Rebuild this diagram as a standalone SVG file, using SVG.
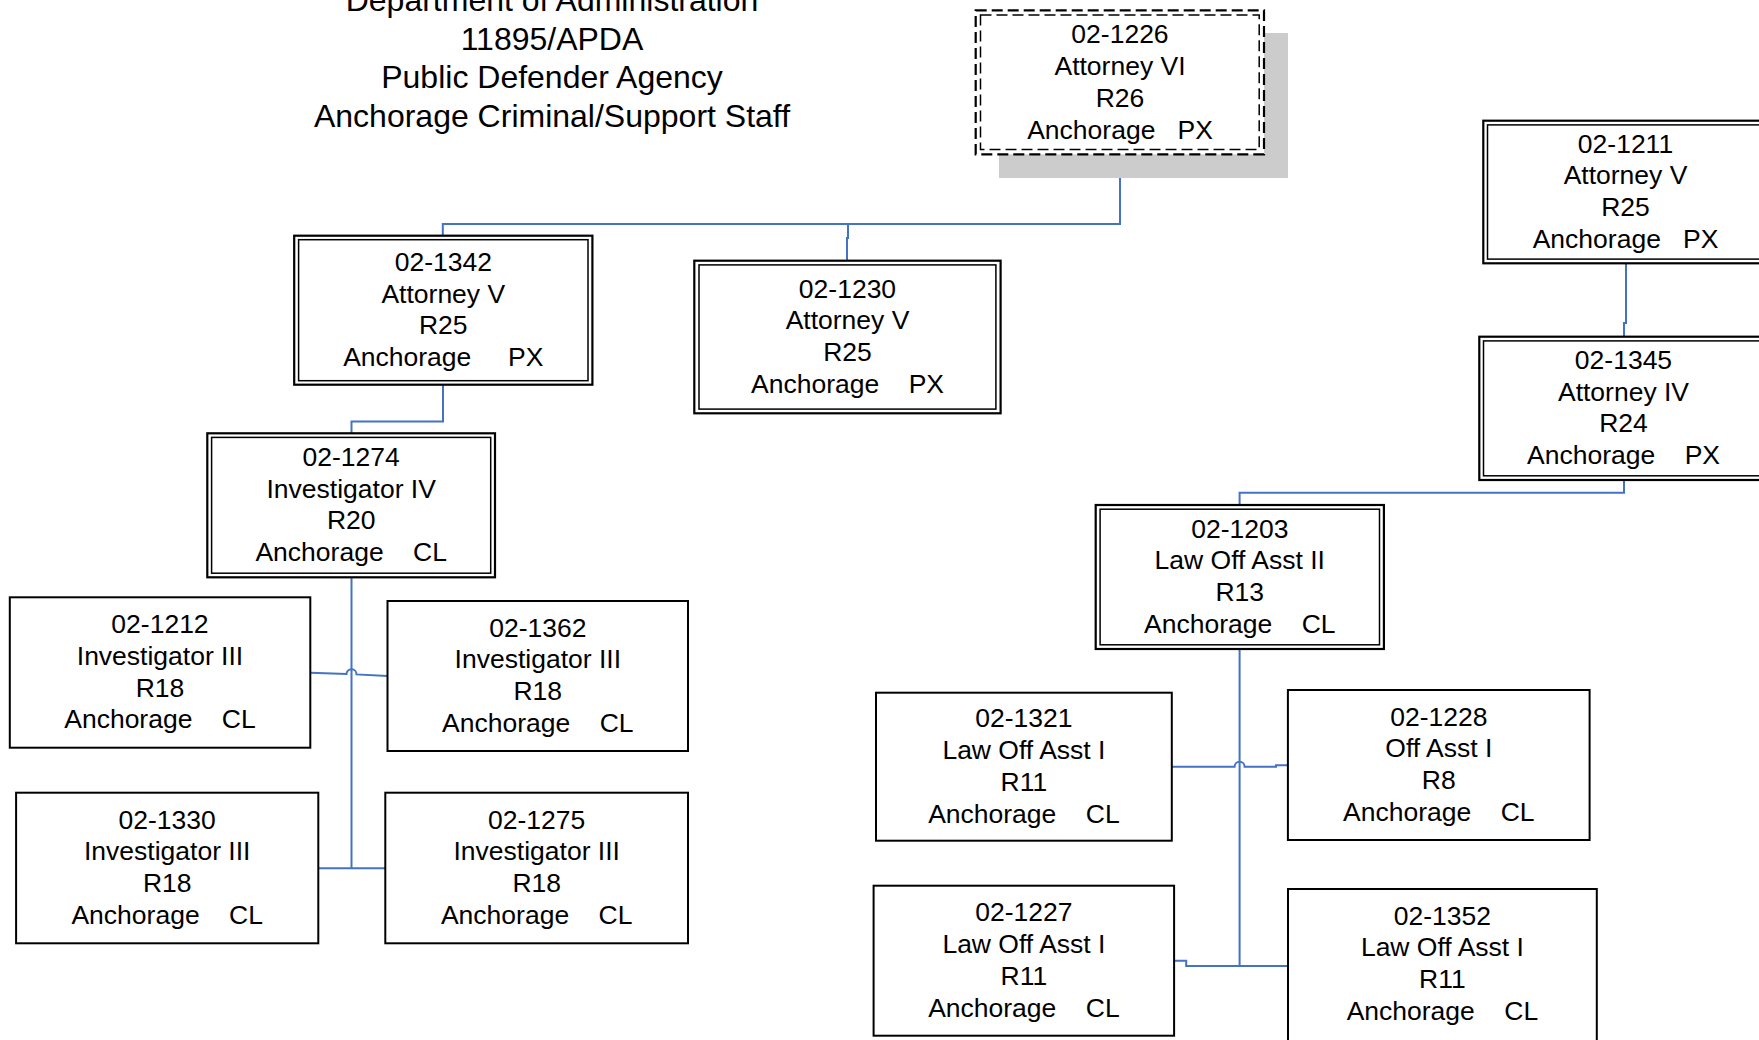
<svg xmlns="http://www.w3.org/2000/svg" width="1759" height="1040" viewBox="0 0 1759 1040">
<style>
text{font-family:"Liberation Sans",Arial,sans-serif;fill:#000}
.t{font-size:32px;text-anchor:middle}
.n{font-size:26.5px;text-anchor:middle}
.b{fill:#fff;stroke:#000;stroke-width:2}
.o{fill:#fff;stroke:#000;stroke-width:2.2}
.i{fill:none;stroke:#000;stroke-width:1.5}
.d{stroke-dasharray:11 5}
.c{fill:none;stroke:#4472C4;stroke-width:2}
</style>
<rect width="1759" height="1040" fill="#fff"/>
<g id="title">
<text class="t" x="552" y="11">Department of Administration</text>
<text class="t" x="552" y="49.5">11895/APDA</text>
<text class="t" x="552" y="88">Public Defender Agency</text>
<text class="t" x="552" y="126.5">Anchorage Criminal/Support Staff</text>
</g>
<g id="connectors">
<path class="c" d="M1120,154.3 V224 H442.8 V235.7"/>
<path class="c" d="M848,224 V238 H847 V260.7"/>
<path class="c" d="M443,384.7 V421.5 H351.5 V433.3"/>
<path class="c" d="M351.5,577.3 V868.3"/>
<path class="c" d="M318.3,868.3 H385.3"/>
<path class="c" d="M310.3,672.7 L346.5,674 A5,5 0 0 1 356.5,674.4 L387.5,676"/>
<path class="c" d="M1626,263.3 V323 H1624 V336.7"/>
<path class="c" d="M1624,480 V492.7 H1239.6 V505"/>
<path class="c" d="M1239.6,649 V966"/>
<path class="c" d="M1171.8,766.7 H1234.6 A5,5 0 0 1 1244.6,766.7 H1276 V765.3 H1287.9"/>
<path class="c" d="M1174.1,960.7 H1186.2 V966 H1288"/>
</g>
<g id="n1226">
<rect x="999" y="33" width="289" height="145" fill="#cccccc"/>
<rect class="o d" x="975.7" y="10.3" width="288.3" height="144"/>
<rect class="i d" x="980.5" y="15" width="278.7" height="134.6"/>
<text class="n" x="1120" y="43.3">02-1226</text>
<text class="n" x="1120" y="75.1">Attorney VI</text>
<text class="n" x="1120" y="106.9">R26</text>
<text class="n" x="1120" y="138.7" xml:space="preserve">Anchorage   PX</text>
</g>
<g id="n1342">
<rect class="o" x="294.2" y="235.7" width="298.2" height="149"/>
<rect class="i" x="298.6" y="239.7" width="289.4" height="141"/>
<text class="n" x="443.3" y="270.7">02-1342</text>
<text class="n" x="443.3" y="302.5">Attorney V</text>
<text class="n" x="443.3" y="334.3">R25</text>
<text class="n" x="443.3" y="366.1" xml:space="preserve">Anchorage     PX</text>
</g>
<g id="n1230">
<rect class="o" x="694.3" y="260.7" width="306.3" height="152.6"/>
<rect class="i" x="699" y="264.9" width="296.9" height="144.2"/>
<text class="n" x="847.5" y="297.5">02-1230</text>
<text class="n" x="847.5" y="329.3">Attorney V</text>
<text class="n" x="847.5" y="361.1">R25</text>
<text class="n" x="847.5" y="392.9" xml:space="preserve">Anchorage    PX</text>
</g>
<g id="n1274">
<rect class="o" x="207.3" y="433.3" width="287.7" height="144"/>
<rect class="i" x="211.6" y="437.4" width="279.1" height="135.8"/>
<text class="n" x="351.2" y="465.8">02-1274</text>
<text class="n" x="351.2" y="497.6">Investigator IV</text>
<text class="n" x="351.2" y="529.4">R20</text>
<text class="n" x="351.2" y="561.2" xml:space="preserve">Anchorage    CL</text>
</g>
<g id="n1212">
<rect class="b" x="9.8" y="597.3" width="300.5" height="150.4"/>
<text class="n" x="160" y="633">02-1212</text>
<text class="n" x="160" y="664.8">Investigator III</text>
<text class="n" x="160" y="696.6">R18</text>
<text class="n" x="160" y="728.4" xml:space="preserve">Anchorage    CL</text>
</g>
<g id="n1362">
<rect class="b" x="387.5" y="601" width="300.5" height="150"/>
<text class="n" x="537.8" y="636.5">02-1362</text>
<text class="n" x="537.8" y="668.3">Investigator III</text>
<text class="n" x="537.8" y="700.1">R18</text>
<text class="n" x="537.8" y="731.9" xml:space="preserve">Anchorage    CL</text>
</g>
<g id="n1330">
<rect class="b" x="16.1" y="792.7" width="302.2" height="150.6"/>
<text class="n" x="167.2" y="828.5">02-1330</text>
<text class="n" x="167.2" y="860.3">Investigator III</text>
<text class="n" x="167.2" y="892.1">R18</text>
<text class="n" x="167.2" y="923.9" xml:space="preserve">Anchorage    CL</text>
</g>
<g id="n1275">
<rect class="b" x="385.3" y="792.7" width="302.7" height="150.6"/>
<text class="n" x="536.7" y="828.5">02-1275</text>
<text class="n" x="536.7" y="860.3">Investigator III</text>
<text class="n" x="536.7" y="892.1">R18</text>
<text class="n" x="536.7" y="923.9" xml:space="preserve">Anchorage    CL</text>
</g>
<g id="n1211">
<rect class="o" x="1483.3" y="120.7" width="284.5" height="142.6"/>
<rect class="i" x="1487.5" y="124.9" width="276" height="134.2"/>
<text class="n" x="1625.5" y="152.5">02-1211</text>
<text class="n" x="1625.5" y="184.3">Attorney V</text>
<text class="n" x="1625.5" y="216.1">R25</text>
<text class="n" x="1625.5" y="247.9" xml:space="preserve">Anchorage   PX</text>
</g>
<g id="n1345">
<rect class="o" x="1479.3" y="336.7" width="288.5" height="143.3"/>
<rect class="i" x="1483.5" y="340.9" width="280" height="134.9"/>
<text class="n" x="1623.5" y="368.8">02-1345</text>
<text class="n" x="1623.5" y="400.6">Attorney IV</text>
<text class="n" x="1623.5" y="432.4">R24</text>
<text class="n" x="1623.5" y="464.2" xml:space="preserve">Anchorage    PX</text>
</g>
<g id="n1203">
<rect class="o" x="1095.7" y="505" width="288.2" height="144"/>
<rect class="i" x="1100.1" y="509.2" width="279.4" height="135.6"/>
<text class="n" x="1239.8" y="537.5">02-1203</text>
<text class="n" x="1239.8" y="569.3">Law Off Asst II</text>
<text class="n" x="1239.8" y="601.1">R13</text>
<text class="n" x="1239.8" y="632.9" xml:space="preserve">Anchorage    CL</text>
</g>
<g id="n1321">
<rect class="b" x="876" y="692.7" width="295.8" height="148"/>
<text class="n" x="1023.9" y="727.2">02-1321</text>
<text class="n" x="1023.9" y="759">Law Off Asst I</text>
<text class="n" x="1023.9" y="790.8">R11</text>
<text class="n" x="1023.9" y="822.6" xml:space="preserve">Anchorage    CL</text>
</g>
<g id="n1228">
<rect class="b" x="1287.9" y="690" width="301.7" height="150"/>
<text class="n" x="1438.8" y="725.5">02-1228</text>
<text class="n" x="1438.8" y="757.3">Off Asst I</text>
<text class="n" x="1438.8" y="789.1">R8</text>
<text class="n" x="1438.8" y="820.9" xml:space="preserve">Anchorage    CL</text>
</g>
<g id="n1227">
<rect class="b" x="873.6" y="885.7" width="300.5" height="150"/>
<text class="n" x="1023.9" y="921.2">02-1227</text>
<text class="n" x="1023.9" y="953">Law Off Asst I</text>
<text class="n" x="1023.9" y="984.8">R11</text>
<text class="n" x="1023.9" y="1016.6" xml:space="preserve">Anchorage    CL</text>
</g>
<g id="n1352">
<rect class="b" x="1288" y="889" width="308.8" height="152"/>
<text class="n" x="1442.4" y="924.5">02-1352</text>
<text class="n" x="1442.4" y="956.3">Law Off Asst I</text>
<text class="n" x="1442.4" y="988.1">R11</text>
<text class="n" x="1442.4" y="1019.9" xml:space="preserve">Anchorage    CL</text>
</g>
</svg>
